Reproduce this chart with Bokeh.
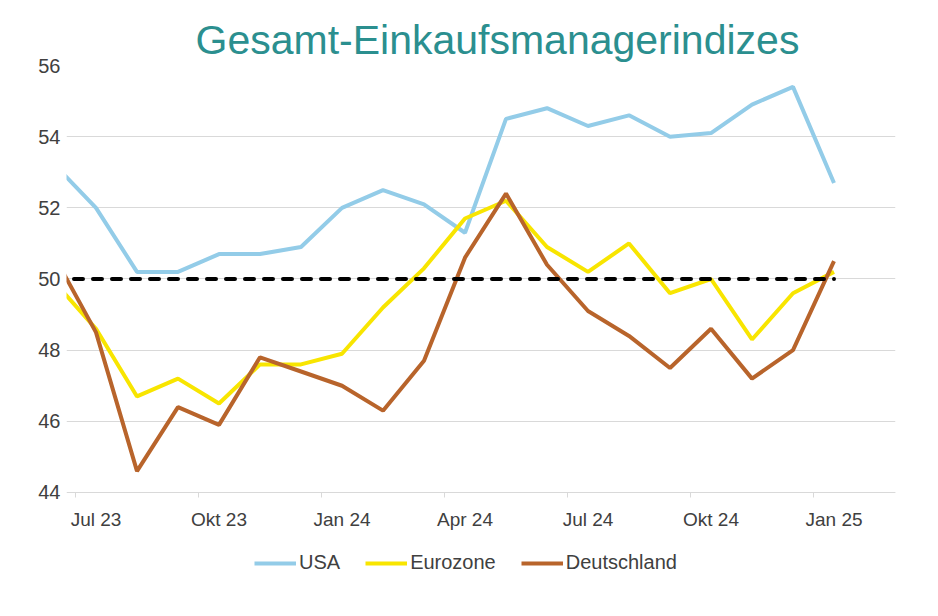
from bokeh.plotting import figure
from bokeh.models import FixedTicker, Legend, LegendItem, ColumnDataSource, Range1d
from bokeh.embed import file_html
from bokeh.resources import INLINE

months = ["Jun 23", "Jul 23", "Aug 23", "Sep 23", "Okt 23", "Nov 23", "Dez 23",
          "Jan 24", "Feb 24", "Mär 24", "Apr 24", "Mai 24", "Jun 24", "Jul 24",
          "Aug 24", "Sep 24", "Okt 24", "Nov 24", "Dez 24", "Jan 25"]
usa = [53.2, 52.0, 50.2, 50.2, 50.7, 50.7, 50.9, 52.0, 52.5, 52.1, 51.3, 54.5,
       54.8, 54.3, 54.6, 54.0, 54.1, 54.9, 55.4, 52.7]
eurozone = [49.9, 48.6, 46.7, 47.2, 46.5, 47.6, 47.6, 47.9, 49.2, 50.3, 51.7, 52.2,
            50.9, 50.2, 51.0, 49.6, 50.0, 48.3, 49.6, 50.2]
deutschland = [50.6, 48.5, 44.6, 46.4, 45.9, 47.8, 47.4, 47.0, 46.3, 47.7, 50.6, 52.4,
               50.4, 49.1, 48.4, 47.5, 48.6, 47.2, 48.0, 50.5]
schwelle = [50, 50, 50, 50, 50, 50, 50, 50, 50, 50, 50, 50, 50, 50, 50, 50, 50, 50, 50, 50]
tick_labels = ["Jul 23", "Okt 23", "Jan 24", "Apr 24", "Jul 24", "Okt 24", "Jan 25"]
y_ticks = [44, 46, 48, 50, 52, 54, 56]

x = [i - 1 for i in range(len(months))]
src = ColumnDataSource(dict(x=x, usa=usa, ez=eurozone, de=deutschland, th=schwelle))

label_pos = [x[months.index(m)] for m in tick_labels]
boundaries = [p - 0.5 for p in label_pos]

FONT = "Liberation Sans"
TXT = "#404040"

# frame extends below the 44 line so the legend can sit inside it,
# and a little to the left so the first tick label is not clipped
p = figure(frame_width=829, frame_height=513, output_backend="svg", toolbar_location=None,
           x_range=Range1d(-0.7195, 19.5), y_range=Range1d(41.583, 56),
           min_border_left=66, min_border_right=5, min_border_top=65,
           min_border_bottom=0)

p.title.text = "Gesamt-Einkaufsmanagerindizes"
p.title.text_font = FONT
p.title.text_font_size = "41px"
p.title.text_font_style = "normal"
p.title.text_color = "#2b8f8f"
p.title.align = "left"
p.title.offset = 129
p.title.standoff = 6

p.outline_line_color = None
p.background_fill_color = "white"
p.border_fill_color = "white"

p.xgrid.grid_line_color = None
p.ygrid.grid_line_color = "#d9d9d9"
p.ygrid.grid_line_width = 1

p.yaxis.ticker = FixedTicker(ticks=y_ticks)
p.yaxis.axis_line_color = None
p.yaxis.major_tick_line_color = None
p.yaxis.major_tick_out = 0
p.yaxis.major_tick_in = 0
p.yaxis.minor_tick_line_color = None
p.yaxis.major_label_text_font = FONT
p.yaxis.major_label_text_font_size = "20px"
p.yaxis.major_label_text_color = TXT
p.yaxis.major_label_standoff = 6

p.xaxis.fixed_location = 44
p.xaxis.bounds = (-0.5, 19.5)
p.xaxis.ticker = FixedTicker(ticks=label_pos, minor_ticks=boundaries)
p.xaxis.major_label_overrides = {pos: lab for pos, lab in zip(label_pos, tick_labels)}
p.xaxis.axis_line_color = "#d9d9d9"
p.xaxis.major_tick_line_color = None
p.xaxis.major_tick_out = 0
p.xaxis.major_tick_in = 0
p.xaxis.minor_tick_line_color = "#d9d9d9"
p.xaxis.minor_tick_out = 5
p.xaxis.minor_tick_in = 0
p.xaxis.major_label_text_font = FONT
p.xaxis.major_label_text_font_size = "19px"
p.xaxis.major_label_text_color = TXT
p.xaxis.major_label_standoff = 12

r_us = p.line("x", "usa", source=src, line_color="#93cce8", line_width=4)
r_ez = p.line("x", "ez", source=src, line_color="#f8e500", line_width=4)
r_de = p.line("x", "de", source=src, line_color="#b8642b", line_width=4)
p.line("x", "th", source=src, line_color="black", line_width=4,
       line_dash="9 10", line_cap="round")

legend = Legend(items=[LegendItem(label="USA", renderers=[r_us]),
                       LegendItem(label="Eurozone", renderers=[r_ez]),
                       LegendItem(label="Deutschland", renderers=[r_de])],
                orientation="horizontal", location=(188, 4),
                label_text_font=FONT, label_text_font_size="20px",
                label_text_color=TXT, glyph_width=42, label_standoff=3,
                spacing=25, border_line_color=None, background_fill_alpha=0,
                margin=0, padding=4, label_height=20, glyph_height=20)
p.add_layout(legend, "center")

open("out.html", "w").write(file_html(p, INLINE))
